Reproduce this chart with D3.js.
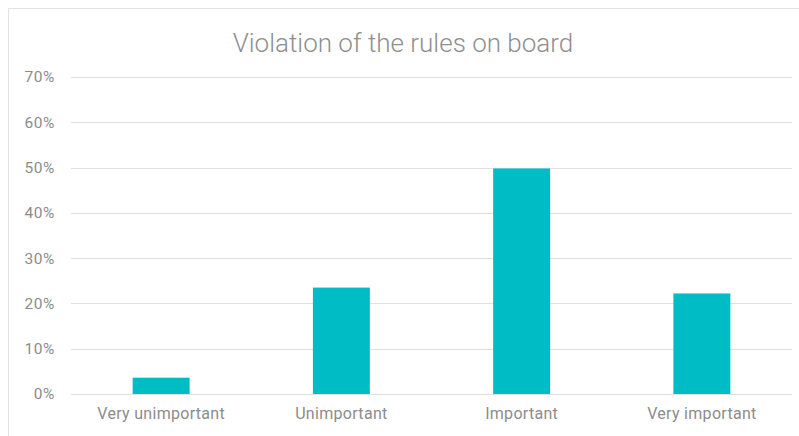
<!DOCTYPE html>
<html>
<head>
<meta charset="utf-8">
<script src="https://cdn.jsdelivr.net/npm/d3@7"></script>
<style>
  html, body { margin: 0; padding: 0; background: #fff; }
  svg { display: block; }
  text { font-family: "Roboto", "Liberation Sans", sans-serif; }
</style>
</head>
<body>
<svg id="chart" width="799" height="436"></svg>
<script>
// Survey responses: share of respondents per importance rating
const title = "Violation of the rules on board";
const categories = ["Very unimportant", "Unimportant", "Important", "Very important"];
const values = [0.036, 0.235, 0.498, 0.222];
const yTicks = [0, 0.1, 0.2, 0.3, 0.4, 0.5, 0.6, 0.7];

const svg = d3.select("#chart");
const W = 799, H = 436;
const margin = { top: 77, right: 7, bottom: 42, left: 71 };

// chart area frame
svg.append("rect")
  .attr("x", 8.5).attr("y", 8.5)
  .attr("width", W + 10).attr("height", H + 10)
  .attr("fill", "#fff").attr("stroke", "#e3e3e3").attr("stroke-width", 1);

const x = d3.scaleBand()
  .domain(categories)
  .range([margin.left, W - margin.right])
  .paddingInner(0.684)
  .paddingOuter(0.342);

const y = d3.scaleLinear()
  .domain([0, 0.7])
  .range([H - margin.bottom, margin.top]);

// horizontal gridlines
svg.append("g")
  .selectAll("line")
  .data(yTicks)
  .join("line")
  .attr("x1", margin.left).attr("x2", W - margin.right)
  .attr("y1", d => Math.round(y(d)) + 0.5).attr("y2", d => Math.round(y(d)) + 0.5)
  .attr("stroke", "#e0e0e0").attr("stroke-width", 1);

// bars
svg.append("g")
  .selectAll("rect")
  .data(categories)
  .join("rect")
  .attr("x", d => x(d))
  .attr("width", x.bandwidth())
  .attr("y", (d, i) => y(values[i]))
  .attr("height", (d, i) => y(0) - y(values[i]))
  .attr("fill", "#00bcc4");

// y axis labels
const yAxis = d3.axisLeft(y)
  .tickValues(yTicks)
  .tickFormat(d3.format(".0%"))
  .tickSize(0)
  .tickPadding(16);
const gy = svg.append("g")
  .attr("transform", `translate(${margin.left},0)`)
  .call(yAxis);
gy.select(".domain").remove();
gy.selectAll("text")
  .attr("fill", "#8c8c8c")
  .style("font-size", "15.5px")
  .style("letter-spacing", "0.6px");

// x axis labels
const xAxis = d3.axisBottom(x).tickSize(0).tickPadding(14);
const gx = svg.append("g")
  .attr("transform", `translate(0,${H - margin.bottom})`)
  .call(xAxis);
gx.select(".domain").remove();
gx.selectAll("text")
  .attr("fill", "#8c8c8c")
  .style("font-size", "16px")
  .style("letter-spacing", "0.3px");

// title
svg.append("text")
  .attr("x", 403).attr("y", 52)
  .attr("text-anchor", "middle")
  .attr("fill", "#8f8f8f")
  .style("font-size", "26px")
  .style("font-weight", 300)
  .text(title);
</script>
</body>
</html>
